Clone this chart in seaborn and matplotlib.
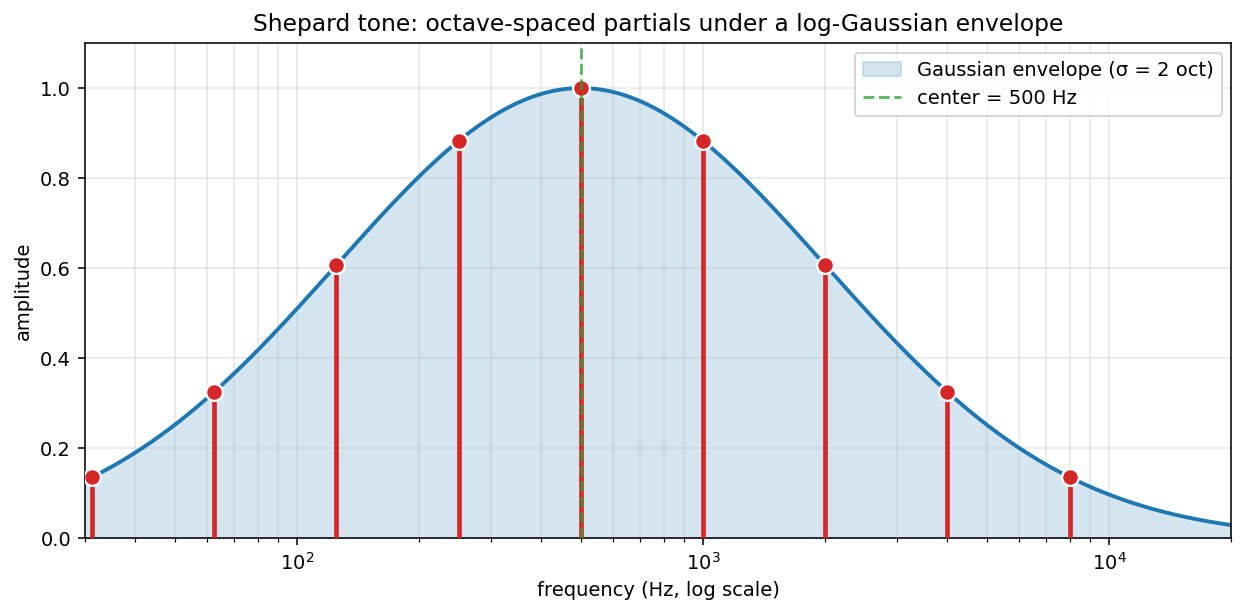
import numpy as np
import pandas as pd
import matplotlib
matplotlib.use("Agg")
import matplotlib.pyplot as plt
import seaborn as sns

# Data
center_hz = 500.0
sigma_oct = 2.0
partial_freqs = [31.25, 62.5, 125, 250, 500, 1000, 2000, 4000, 8000]
partial_amps = [0.135, 0.325, 0.607, 0.882, 1.0, 0.882, 0.607, 0.325, 0.135]
x_limits = [30, 20000]

plt.rcdefaults()
plt.rcParams['font.family'] = ['DejaVu Sans']

fig, ax = plt.subplots(figsize=(1245 / 140, 615 / 140), dpi=140)

env_f = np.logspace(np.log10(x_limits[0]), np.log10(x_limits[1]), 600)
env_a = np.exp(-0.5 * (np.log2(env_f / center_hz) / sigma_oct) ** 2)
env_df = pd.DataFrame({"f": env_f, "a": env_a})

ax.fill_between(env_df["f"], 0, env_df["a"], color="#1f77b4", alpha=0.18,
                label=f"Gaussian envelope (σ = {sigma_oct:g} oct)", zorder=1)
sns.lineplot(data=env_df, x="f", y="a", ax=ax, color="#1f77b4", lw=2, zorder=2)

ax.vlines(partial_freqs, 0, partial_amps, color="#d62728", lw=2.4, zorder=3)
sns.scatterplot(x=partial_freqs, y=partial_amps, ax=ax, color="#d62728", s=75,
                edgecolor="white", linewidth=1.2, zorder=4)

ax.axvline(center_hz, color="#2ca02c", ls="--", lw=1.5, alpha=0.75,
           label=f"center = {center_hz:g} Hz", zorder=5)

ax.set_xscale("log")
ax.set_xlim(*x_limits)
ax.set_ylim(0, 1.1)
ax.grid(True, which="both", color="#b0b0b0", alpha=0.3, lw=0.8)
ax.set_xlabel("frequency (Hz, log scale)")
ax.set_ylabel("amplitude")
ax.set_title("Shepard tone: octave-spaced partials under a log-Gaussian envelope", fontsize=12)
ax.legend(loc="upper right", fontsize=10)

fig.subplots_adjust(left=0.068, right=0.989, top=0.930, bottom=0.125)
fig.savefig("out.png", dpi=140)
